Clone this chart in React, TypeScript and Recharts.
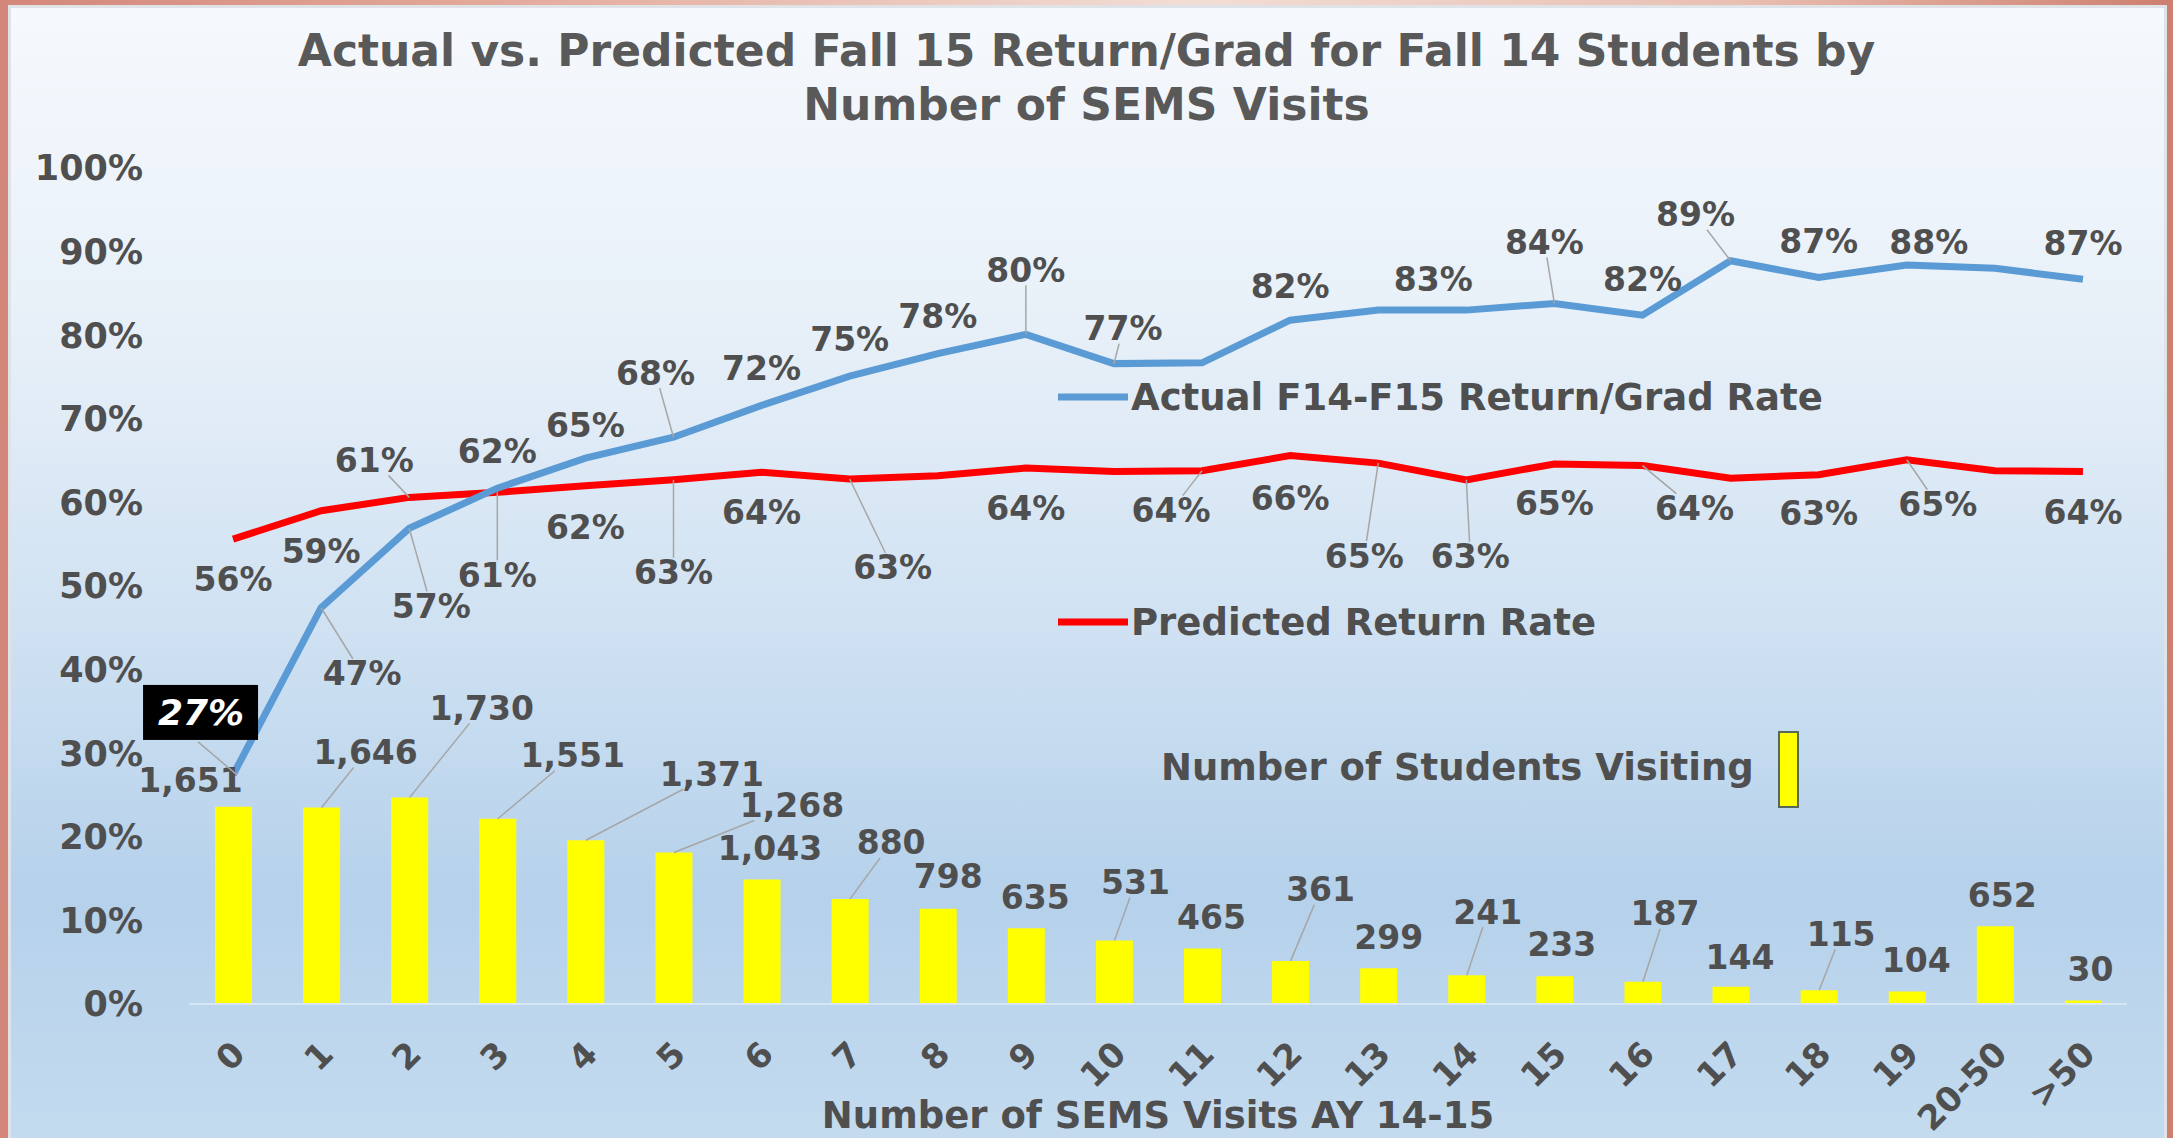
import React from 'react';
import { ComposedChart, Bar, Line, XAxis, YAxis, Legend, LabelList } from 'recharts';

document.body.style.margin = '0';

const categories = ['0', '1', '2', '3', '4', '5', '6', '7', '8', '9', '10', '11', '12', '13', '14', '15', '16', '17', '18', '19', '20-50', '>50'];
const students = [1651, 1646, 1730, 1551, 1371, 1268, 1043, 880, 798, 635, 531, 465, 361, 299, 241, 233, 187, 144, 115, 104, 652, 30];
const actualRate = [27.4, 47.4, 56.9, 61.7, 65.3, 67.8, 71.6, 75.1, 77.8, 80.1, 76.6, 76.7, 81.8, 83.0, 83.0, 83.8, 82.4, 88.9, 86.9, 88.4, 88.0, 86.7];
const predictedRate = [55.6, 59.0, 60.6, 61.2, 62.0, 62.7, 63.6, 62.8, 63.2, 64.1, 63.7, 63.8, 65.6, 64.7, 62.7, 64.6, 64.4, 62.9, 63.3, 65.1, 63.8, 63.7];
const percentTicks = [0, 10, 20, 30, 40, 50, 60, 70, 80, 90, 100];

// label placement: [dx, dy, leader line?] relative to the point / bar top, null = no label
type LabelPos = [number, number, boolean] | null;
const actualLabelPos: LabelPos[] = [
  null, [41, 66, true], [22, 78, true], [0, -37, false], [0, -33, false], [-18, -64, true],
  [0, -37, false], [0, -37, false], [0, -37, false], [0, -64, true], [9, -35, true], null,
  [0, -34, false], null, [-33, -31, false], [-10, -61, true], [0, -36, false], [-35, -46, true],
  [0, -36, false], [22, -22, false], null, [0, -36, false],
];
const predictedLabelPos: LabelPos[] = [
  [0, 40, false], [0, 41, false], [-35, -37, true], [0, 83, true], [0, 42, false], [0, 93, true],
  [0, 40, false], [43, 89, true], null, [0, 40, false], null, [-31, 40, true],
  [0, 43, false], [-14, 93, true], [4, 77, true], [0, 40, false], [52, 43, true], null,
  [0, 39, false], [31, 45, true], null, [0, 41, false],
];
const studentLabelPos: LabelPos[] = [
  [-43, -26, false], [44, -55, true], [72, -89, true], [75, -63, true], [126, -66, true], [118, -47, true],
  [8, -31, false], [41, -56, true], [10, -32, false], [9, -31, false], [21, -58, true], [9, -31, false],
  [30, -71, true], [10, -31, false], [21, -63, true], [7, -32, false], [22, -68, true], [9, -29, false],
  [22, -56, true], [9, -31, false], [7, -31, false], [7, -31, false],
];

const data = categories.map((c, i) => ({
  visits: c,
  students: students[i],
  actual: actualRate[i],
  predicted: predictedRate[i],
}));

const FONT = "'DejaVu Sans', 'Liberation Sans', sans-serif";
const TEXT = '#4f4f4f';
const LABEL_SIZE = 33;

const charW = (ch: string) => {
  if (ch === '%') return 1.0;
  if (ch === ',') return 0.38;
  return 0.7;
};

const makeLabel = (pos: LabelPos[], fmt: (v: number) => string) => (props: any) => {
  const { x, y, width, value, index } = props;
  const p = pos[index];
  if (!p) return null;
  const px = Number(x) + (width ? Number(width) / 2 : 0);
  const py = Number(y);
  const [dx, dy, leader] = p;
  const cx = px + dx;
  const cy = py + dy;
  const text = fmt(Number(value));
  const hw = (text.split('').reduce((s, ch) => s + charW(ch), 0) * LABEL_SIZE) / 2 + 3;
  const hh = 15;
  let line = null;
  if (leader) {
    const vx = px - cx;
    const vy = py - cy;
    const t = Math.min(vx === 0 ? Infinity : hw / Math.abs(vx), vy === 0 ? Infinity : hh / Math.abs(vy));
    line = <line x1={px} y1={py} x2={cx + vx * t} y2={cy + vy * t} stroke="#a6a6a6" strokeWidth={1.5} />;
  }
  return (
    <g>
      {line}
      <text x={cx} y={cy} textAnchor="middle" dominantBaseline="central" fill={TEXT}
        fontFamily={FONT} fontWeight="bold" fontSize={LABEL_SIZE}>{text}</text>
    </g>
  );
};

const pct = (v: number) => `${Math.round(v)}%`;
const ActualLabel = (props: any) => {
  if (props.index === 0) {
    const px = Number(props.x);
    const py = Number(props.y);
    return (
      <g>
        <line x1={px + 4} y1={py} x2={px - 35} y2={py - 33} stroke="#a6a6a6" strokeWidth={1.5} />
        <rect x={px - 90} y={py - 90} width={115} height={55} fill="#000" />
        <text x={px - 32} y={py - 62} textAnchor="middle" dominantBaseline="central" fill="#fff"
          fontFamily={FONT} fontWeight="bold" fontStyle="italic" fontSize={36}>{pct(props.value)}</text>
      </g>
    );
  }
  return makeLabel(actualLabelPos, pct)(props);
};
const PredictedLabel = makeLabel(predictedLabelPos, pct);
const StudentLabel = makeLabel(studentLabelPos, (v) => v.toLocaleString('en-US'));

const XTick = (props: any) => {
  const { x, y, payload } = props;
  const ax = Number(x) + 14;
  const ay = Number(y) + 52;
  return (
    <text x={ax} y={ay} transform={`rotate(-45 ${ax} ${ay})`} textAnchor="end" fill={TEXT}
      fontFamily={FONT} fontWeight="bold" fontSize={34}>{payload.value}</text>
  );
};

const legendPlace: Record<string, { left: number; top: number }> = {
  actual: { left: 1058, top: 397 },
  predicted: { left: 1058, top: 622 },
  students: { left: 1161, top: 767 },
};

const LegendContent = (props: any) => {
  const { payload = [] } = props;
  return (
    <div style={{ position: 'relative', width: 0, height: 0 }}>
      {payload.map((item: any) => {
        const place = legendPlace[item.dataKey];
        if (!place) return null;
        const isBar = item.dataKey === 'students';
        return (
          <div key={item.dataKey} style={{
            position: 'absolute', left: place.left, top: place.top, transform: 'translateY(-50%)',
            display: 'flex', alignItems: 'center', whiteSpace: 'nowrap',
            fontFamily: FONT, fontWeight: 'bold', fontSize: 37, color: TEXT,
          }}>
            {!isBar && <span style={{ display: 'inline-block', width: 70, height: 7, background: item.color, marginRight: 3 }} />}
            <span>{item.value}</span>
            {isBar && <span style={{ display: 'inline-block', width: 17, height: 73, background: '#ffff00', border: '2px solid #56675c', marginLeft: 24, marginTop: 5 }} />}
          </div>
        );
      })}
    </div>
  );
};

export default function App() {
  return (
    <div style={{
      position: 'relative', width: 2173, height: 1138, overflow: 'hidden',
      background: 'linear-gradient(90deg, #d3877a 0%, #e4ad9f 25%, #f2ddd5 55%, #e9bfb2 80%, #cd7f6e 100%)',
    }}>
      <div style={{
        position: 'absolute', left: 8, top: 5, width: 2159, height: 1140, boxSizing: 'border-box',
        borderTop: '3px solid #dfe3e8', borderLeft: '3px solid #dfe3e8', borderRight: '3px solid #dfe3e8',
        background: 'linear-gradient(180deg, #f6f9fd 0%, #e6eff8 30%, #cfe1f2 55%, #b5d1eb 78%, #c4dbef 100%)',
      }} />
      <div style={{
        position: 'absolute', left: 0, top: 24, width: 2173, textAlign: 'center',
        fontFamily: FONT, fontWeight: 'bold', fontSize: 44, lineHeight: '54px', color: '#595959',
      }}>
        Actual vs. Predicted Fall 15 Return/Grad for Fall 14 Students by<br />Number of SEMS Visits
      </div>
      <div style={{ position: 'absolute', left: 0, top: 0 }}>
        <ComposedChart width={2173} height={1138} data={data}
          margin={{ top: 168, right: 46, bottom: 4, left: 39 }}>
          <XAxis dataKey="visits" interval={0} height={130} tickLine={false} tickSize={0} tickMargin={0}
            axisLine={{ stroke: '#d8e5f2', strokeWidth: 2 }} tick={<XTick />}
            label={{ value: 'Number of SEMS Visits AY 14-15', position: 'insideBottom', offset: 6, fill: TEXT, fontFamily: FONT, fontWeight: 'bold', fontSize: 37 }} />
          <YAxis yAxisId="pct" domain={[0, 100]} ticks={percentTicks} width={150} axisLine={false} tickLine={false}
            tickSize={0} tickMargin={46} tickFormatter={(v) => `${v}%`}
            tick={{ fill: TEXT, fontFamily: FONT, fontWeight: 'bold', fontSize: 35 }} />
          <YAxis yAxisId="count" orientation="right" domain={[0, 7000]} hide />
          <Legend content={<LegendContent />} wrapperStyle={{ left: 0, top: 0, width: 0, height: 0 }} />
          <Bar yAxisId="count" dataKey="students" name="Number of Students Visiting" fill="#ffff00" barSize={37} isAnimationActive={false}>
            <LabelList dataKey="students" content={<StudentLabel />} />
          </Bar>
          <Line yAxisId="pct" type="linear" dataKey="predicted" name="Predicted Return Rate" stroke="#ff0000" strokeWidth={7}
            dot={false} activeDot={false} isAnimationActive={false}>
            <LabelList dataKey="predicted" content={<PredictedLabel />} />
          </Line>
          <Line yAxisId="pct" type="linear" dataKey="actual" name="Actual F14-F15 Return/Grad Rate" stroke="#5b9bd5" strokeWidth={7}
            dot={false} activeDot={false} isAnimationActive={false}>
            <LabelList dataKey="actual" content={<ActualLabel />} />
          </Line>
        </ComposedChart>
      </div>
    </div>
  );
}
